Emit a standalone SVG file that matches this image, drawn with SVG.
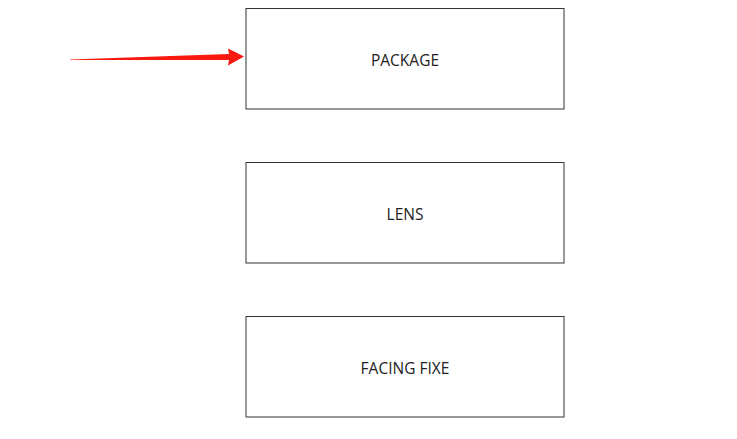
<svg xmlns="http://www.w3.org/2000/svg" width="737" height="439" viewBox="0 0 737 439">
<style>
.box{fill:#fff;stroke:#333;stroke-width:1}
.lbl{font-family:"Open Sans",sans-serif;font-size:15.5px;fill:#222;text-anchor:middle}
</style>
<rect width="737" height="439" fill="#fff"/>
<g id="package"><rect class="box" x="246" y="8.5" width="318" height="100.5"/><text class="lbl" x="405" y="65.5">PACKAGE</text></g>
<g id="lens"><rect class="box" x="246" y="162.5" width="318" height="100.5"/><text class="lbl" x="405" y="219.5">LENS</text></g>
<g id="facing"><rect class="box" x="246" y="316.5" width="318" height="100.5"/><text class="lbl" x="405" y="373.5">FACING FIXE</text></g>
<g id="connectors"><polygon points="70,59.5 229,54 228,48.5 244,56.5 228,65.5 229,60 70,60" fill="#f8190f"/></g>
</svg>
